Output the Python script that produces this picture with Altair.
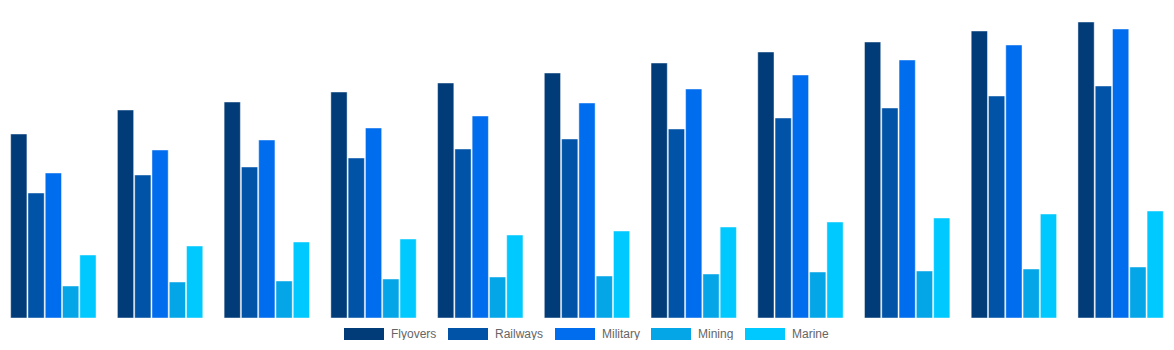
import altair as alt
import pandas as pd

groups = ["2015", "2016", "2017", "2018", "2019", "2020", "2021", "2022", "2023", "2024", "2025"]
series = ["Flyovers", "Railways", "Military", "Mining", "Marine"]
colors = ["#013C79", "#0053A6", "#006DEE", "#04A6E7", "#00C9FF"]

flyovers = [184, 208, 216, 226, 235, 245, 255, 266, 276, 287, 296]
railways = [125, 143, 151, 160, 169, 179, 189, 200, 210, 222, 232]
military = [145, 168, 178, 190, 202, 215, 229, 243, 258, 273, 289]
mining = [32, 36, 37, 39, 41, 42, 44, 46, 47, 49, 51]
marine = [63, 72, 76, 79, 83, 87, 91, 96, 100, 104, 107]

values = [flyovers, railways, military, mining, marine]
rows = []
for s, vals in zip(series, values):
    for g, v in zip(groups, vals):
        rows.append({"group": g, "series": s, "value": v})
df = pd.DataFrame(rows)

chart = (
    alt.Chart(df)
    .mark_bar(stroke="#ffffff", strokeOpacity=0.45, strokeWidth=1)
    .encode(
        x=alt.X("group:N", sort=groups, axis=None,
                scale=alt.Scale(paddingInner=0.2, paddingOuter=0.1)),
        xOffset=alt.XOffset("series:N", sort=series,
                            scale=alt.Scale(paddingInner=0.06)),
        y=alt.Y("value:Q", axis=None, scale=alt.Scale(domain=[0, 318], nice=False, zero=True)),
        color=alt.Color(
            "series:N",
            sort=series,
            scale=alt.Scale(domain=series, range=colors),
            legend=alt.Legend(
                title=None,
                orient="none",
                legendX=344,
                legendY=314,
                direction="horizontal",
                symbolType="M-1,-0.3L1,-0.3L1,0.3L-1,0.3Z",
                symbolSize=1600,
                symbolStrokeWidth=0,
                symbolOpacity=1,
                labelFont="Liberation Sans",
                labelFontSize=12,
                labelColor="#666666",
                labelOffset=7,
                columnPadding=11,
                padding=0,
            ),
        ),
    )
    .properties(width=1174, height=318, padding=0)
    .configure(background="#ffffff", view=alt.ViewConfig(stroke=None))
)

chart.save("out.html", embed_options={"renderer": "svg", "actions": False})
